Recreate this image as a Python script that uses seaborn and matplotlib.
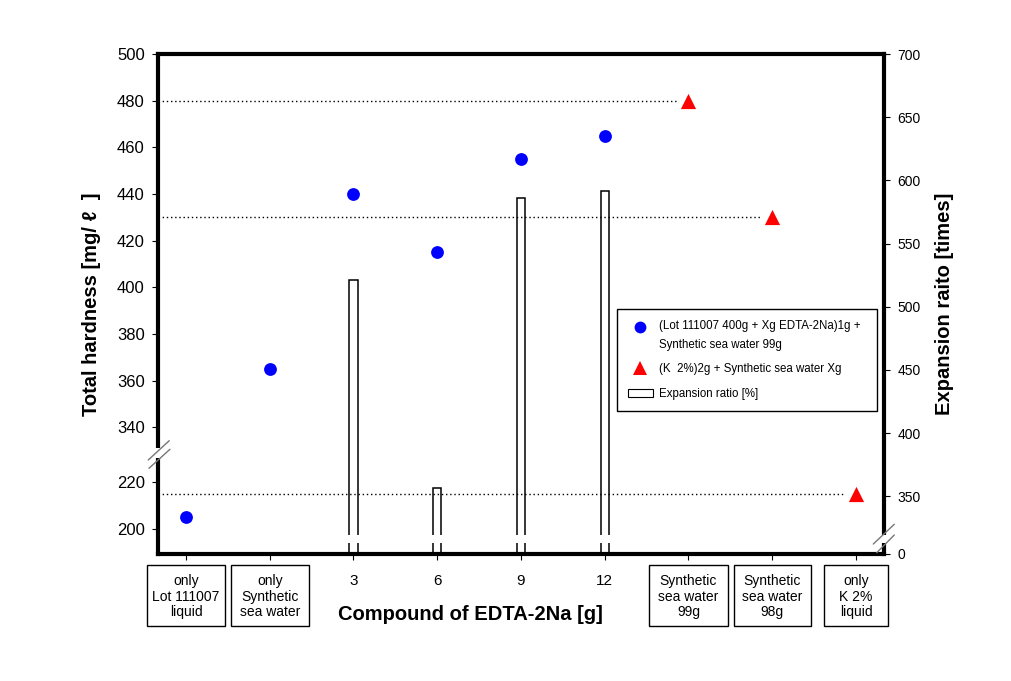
import numpy as np
import pandas as pd
import matplotlib
matplotlib.use("Agg")
import matplotlib.pyplot as plt
import seaborn as sns
from matplotlib.lines import Line2D
from matplotlib.patches import Patch, Rectangle
from matplotlib.legend_handler import HandlerLine2D
import matplotlib.transforms as mtrans

# ---------------- data ----------------
categories = ["only\nLot 111007\nliquid", "only\nSynthetic\nsea water", "3", "6", "9", "12",
              "Synthetic\nsea water\n99g", "Synthetic\nsea water\n98g", "only\nK 2%\nliquid"]
boxed = [True, True, False, False, False, False, True, True, True]

edta_idx = [0, 1, 2, 3, 4, 5]
edta_hardness = [205, 365, 440, 415, 455, 465]

k_idx = [6, 7, 8]
k_hardness = [480, 430, 215]

bar_idx = [2, 3, 4, 5]
expansion_ratio = [521, 357, 586, 592]

left_ticks = [200, 220, 340, 360, 380, 400, 420, 440, 460, 480, 500]
right_ticks = [0, 350, 400, 450, 500, 550, 600, 650, 700]

label_edta = "(Lot 111007 400g + Xg EDTA-2Na)1g +\nSynthetic sea water 99g"
label_k = "(K  2%)2g + Synthetic sea water Xg"
label_bar = "Expansion ratio [%]"

# style (not data)
box_widths = [0.93, 0.93, 0, 0, 0, 0, 0.94, 0.92, 0.76]

# ---------------- broken scales ----------------
LO_TOP, HI_BOT = 233.0, 329.4
GAP = HI_BOT - LO_TOP


def lf(v):
    v = np.asarray(v, dtype=float)
    return np.where(v <= LO_TOP, v, np.where(v >= HI_BOT, v - GAP, LO_TOP))


def li(u):
    u = np.asarray(u, dtype=float)
    return np.where(u <= LO_TOP, u, u + GAP)


R_SPLIT, R_U = 350.0, 45.57


def rf(r):
    r = np.asarray(r, dtype=float)
    return np.where(r <= R_SPLIT, r * R_U / R_SPLIT, r - R_SPLIT + R_U)


def ri(u):
    u = np.asarray(u, dtype=float)
    return np.where(u <= R_U, u * R_SPLIT / R_U, u + R_SPLIT - R_U)


class TopLineHandler(HandlerLine2D):
    """Place the marker next to the first line of a two-line label."""
    def __init__(self, shift, **kw):
        super().__init__(**kw)
        self.shift = shift

    def create_artists(self, legend, orig_handle, xdescent, ydescent, width, height,
                       fontsize, trans):
        return super().create_artists(legend, orig_handle, xdescent,
                                      ydescent - 2 * self.shift, width, height,
                                      fontsize, trans)


# ---------------- figure ----------------
sns.set_theme(style="ticks")
plt.rcParams["font.family"] = ["Liberation Sans", "DejaVu Sans"]
plt.rcParams["axes.edgecolor"] = "black"
plt.rcParams["xtick.color"] = "black"
plt.rcParams["ytick.color"] = "black"
plt.rcParams["text.color"] = "black"
plt.rcParams["axes.labelcolor"] = "black"

fig = plt.figure(figsize=(10.12, 6.81), dpi=100)
fig.patch.set_facecolor("white")
ax = fig.add_axes([0.1561, 0.1865, 0.7174, 0.7342])
ax2 = ax.twinx()
ax.set_zorder(ax2.get_zorder() + 1)
ax.patch.set_visible(False)

df_edta = pd.DataFrame({"pos": edta_idx, "hardness": edta_hardness})
df_k = pd.DataFrame({"pos": k_idx, "hardness": k_hardness})
df_bar = pd.DataFrame({"pos": bar_idx, "ratio": expansion_ratio})

# bars (right axis)
sns.barplot(data=df_bar, x="pos", y="ratio", native_scale=True, width=0.1,
            color="white", edgecolor="black", linewidth=1.1, errorbar=None, ax=ax2)
for p in ax2.patches:
    p.set_facecolor("white")
ax2.set_yscale("function", functions=(rf, ri))
ax2.set_ylim(0, 700)
ax2.set_yticks(right_ticks)
ax2.set_yticklabels([str(t) for t in right_ticks])
ax2.set_ylabel("")
ax2.set_xlabel("")

# points (left axis)
ax.set_yscale("function", functions=(lf, li))
ax.hlines(df_k["hardness"], xmin=-0.334, xmax=df_k["pos"] - 0.13, colors="black",
          linestyles=(0, (1, 2)), linewidth=1.0, zorder=1)
sns.scatterplot(data=df_edta, x="pos", y="hardness", marker="o", color="#0000FF",
                s=85, linewidth=0, ax=ax, zorder=3)
sns.scatterplot(data=df_k, x="pos", y="hardness", marker="^", color="#FF0000",
                s=120, linewidth=0, ax=ax, zorder=3)
ax.set_ylim(189.3, 500)
ax.set_yticks(left_ticks)
ax.set_yticklabels([str(t) for t in left_ticks])
ax.set_xlim(-0.334, 8.334)
ax.set_xticks(range(len(categories)))
ax.set_xticklabels(categories)
for t, b in zip(ax.get_xticklabels(), boxed):
    t.set_fontsize(10 if b else 11)
    t.set_linespacing(1.15)

# spines
for s in ax2.spines.values():
    s.set_visible(False)
for s in ax.spines.values():
    s.set_visible(True)
    s.set_linewidth(3)
    s.set_color("black")

ax.tick_params(axis="y", direction="out", length=4.5, width=0.8, labelsize=12, pad=5)
ax.tick_params(axis="x", direction="out", length=4, width=0.8, pad=10.5)
ax2.tick_params(axis="y", direction="out", length=4.5, width=0.8, labelsize=10, pad=5)

# axis labels
ax.set_ylabel("Total hardness [mg/ ℓ  ]", fontsize=14.5, fontweight="bold", color="black")
ax.yaxis.set_label_coords(-0.091, 0.5)
ax.yaxis.label.set_va("center")
ax.set_xlabel("Compound of EDTA-2Na [g]", fontsize=14.5, fontweight="bold", color="black")
ax.xaxis.set_label_coords(0.431, -0.122)
ax.xaxis.label.set_va("center")
ax2.set_ylabel("Expansion raito [times]", fontsize=14.5, fontweight="bold", color="black")
ax2.yaxis.set_label_coords(1.084, 0.5)
ax2.yaxis.label.set_va("center")

# boxed tick labels
blend = mtrans.blended_transform_factory(ax.transData, ax.transAxes)
for i, (b, w) in enumerate(zip(boxed, box_widths)):
    if b:
        ax.add_patch(Rectangle((i - w / 2, -0.145), w, 0.123, transform=blend,
                               fill=False, edgecolor="black", linewidth=1.0, clip_on=False))

# axis breaks
ax.add_patch(Rectangle((-0.012, 0.192), 0.024, 0.019, transform=ax.transAxes,
                       facecolor="white", edgecolor="none", clip_on=False, zorder=10))
ax.add_patch(Rectangle((0.01, 0.022), 1.0, 0.016, transform=ax.transAxes,
                       facecolor="white", edgecolor="none", clip_on=False, zorder=10))
for (x0, y0, x1, y1) in [(-0.0134, 0.188, 0.0155, 0.2266), (-0.0124, 0.1714, 0.0165, 0.2094),
                         (0.9853, 0.020, 1.0142, 0.0594), (0.990, 0.0026, 1.0142, 0.038)]:
    ax.add_line(Line2D([x0, x1], [y0, y1], transform=ax.transAxes, color="#777777",
                       linewidth=1.0, clip_on=False, zorder=11))

# legend
h_edta = Line2D([], [], marker="o", linestyle="none", markerfacecolor="#0000FF",
                markeredgewidth=0, markersize=8.5)
h_k = Line2D([], [], marker="^", linestyle="none", markerfacecolor="#FF0000",
             markeredgewidth=0, markersize=9.5)
h_bar = Patch(facecolor="white", edgecolor="black", linewidth=0.8)
leg = ax.legend([h_edta, h_k, h_bar], [label_edta, label_k, label_bar], loc="upper left",
                bbox_to_anchor=(0.632, 0.49, 0.358, 0.0), mode="expand",
                fontsize=8.3, frameon=True, fancybox=False, shadow=False,
                edgecolor="black", framealpha=1, borderpad=0.95, labelspacing=1.1,
                handlelength=2.2, handletextpad=0.55, handleheight=0.7, borderaxespad=0,
                handler_map={h_edta: TopLineHandler(shift=6.2)})
leg.get_frame().set_linewidth(1.0)
for t in leg.get_texts():
    t.set_linespacing(1.75)

fig.savefig("out.png", dpi=100, facecolor="white")
